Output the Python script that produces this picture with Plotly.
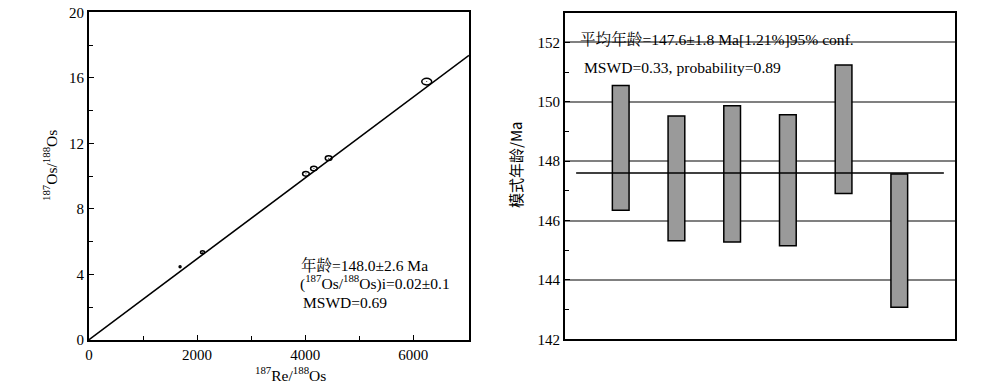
import plotly.graph_objects as go

# Left: isochron data
re_os = [1685, 2100, 4013, 4161, 4433, 6248]
os_os = [4.47, 5.35, 10.14, 10.47, 11.1, 15.77]
sx = [18, 37, 62, 62, 62, 92]
sy = [0.06, 0.09, 0.14, 0.14, 0.14, 0.2]
iso_slope = 0.002469
iso_intercept = 0.02
iso_x = [0, 7030]

# Right: model ages
samples = [1, 2, 3, 4, 5, 6]
age_top = [150.55, 149.52, 149.87, 149.56, 151.24, 147.57]
age_bottom = [146.35, 145.32, 145.28, 145.15, 146.91, 143.08]
mean_age = 147.6
mean_x = [0.2, 6.8]

SERIF = "Liberation Serif, Noto Serif CJK SC, Noto Sans CJK SC, serif"
OFF = 8  # page body margin offset


def px(xp):
    return (xp - OFF) / 1000


def py(yp):
    return (386 + OFF - yp) / 386


fig = go.Figure()

fig.add_trace(go.Scatter(x=iso_x, y=[iso_intercept + iso_slope * v for v in iso_x],
                         mode="lines", line=dict(color="black", width=1.6),
                         xaxis="x", yaxis="y", showlegend=False, hoverinfo="skip"))
fig.add_trace(go.Scatter(x=re_os, y=os_os, mode="markers",
                         marker=dict(size=1, color="black"),
                         xaxis="x", yaxis="y", showlegend=False))

shapes = []
for xv, yv, ex, ey in zip(re_os, os_os, sx, sy):
    shapes.append(dict(type="circle", xref="x", yref="y", x0=xv - ex, x1=xv + ex,
                       y0=yv - ey, y1=yv + ey, line=dict(color="black", width=1.5)))

fig.add_trace(go.Bar(x=samples, y=[t - b for t, b in zip(age_top, age_bottom)], base=age_bottom,
                     width=0.3, marker=dict(color="#9a9a9a", line=dict(color="black", width=1.5)),
                     xaxis="x2", yaxis="y2", showlegend=False))
fig.add_trace(go.Scatter(x=mean_x, y=[mean_age, mean_age], mode="lines",
                         line=dict(color="black", width=1.6),
                         xaxis="x2", yaxis="y2", showlegend=False, hoverinfo="skip"))

axis_common = dict(showline=True, linecolor="black", linewidth=1.8, mirror=True,
                   ticks="inside", ticklen=5, tickcolor="black", tickwidth=1.2,
                   zeroline=False, automargin=False, ticklabeloverflow="allow",
                   tickfont=dict(family=SERIF, size=15, color="black"))

fig.update_layout(
    template="none",
    width=1000, height=386, margin=dict(l=0, r=0, t=0, b=0, autoexpand=False),
    paper_bgcolor="white", plot_bgcolor="white", shapes=shapes,
    xaxis=dict(domain=[px(89), px(469)], range=[0, 7030], tickvals=[0, 2000, 4000, 6000],
               minor=dict(tickvals=[1000, 3000, 5000], ticks="inside", ticklen=4, tickcolor="black"),
               showgrid=False, anchor="y", **axis_common),
    yaxis=dict(domain=[py(340), py(12.3)], range=[0, 20], tickvals=[0, 4, 8, 12, 16, 20],
               minor=dict(tickvals=[2, 6, 10, 14, 18], ticks="inside", ticklen=4, tickcolor="black"),
               showgrid=False, anchor="x", **axis_common),
    xaxis2=dict(domain=[px(565), px(955)], range=[0, 7], showticklabels=False, ticks="",
                showgrid=False, showline=True, linecolor="black", linewidth=1.8, mirror=True,
                zeroline=False, automargin=False, anchor="y2"),
    yaxis2=dict(domain=[py(339.3), py(12.7)], range=[142, 153], tickvals=[142, 144, 146, 148, 150, 152],
                minor=dict(tickvals=[143, 145, 147, 149, 151], ticks="inside", ticklen=4, tickcolor="black"),
                showgrid=True, gridcolor="#808080", gridwidth=1.5, anchor="x2", **axis_common),
    annotations=[
        dict(text="<sup>187</sup>Re/<sup>188</sup>Os", xref="paper", yref="paper", x=px(290), y=py(374),
             xanchor="center", yanchor="middle",
             showarrow=False, font=dict(family=SERIF, size=15.5, color="black")),
        dict(text="<sup>187</sup>Os/<sup>188</sup>Os", xref="paper", yref="paper", x=px(50), y=py(166),
             xanchor="center", yanchor="middle",
             textangle=-90, showarrow=False, font=dict(family=SERIF, size=15.5, color="black")),
        dict(text="年龄=148.0±2.6 Ma", xref="paper", yref="paper", x=px(299), y=py(276),
             xanchor="left", showarrow=False, font=dict(family=SERIF, size=15.5, color="black")),
        dict(text="(<sup>187</sup>Os/<sup>188</sup>Os)i=0.02±0.1", xref="paper", yref="paper", x=px(298), y=py(295),
             xanchor="left", showarrow=False, font=dict(family=SERIF, size=15.5, color="black")),
        dict(text="MSWD=0.69", xref="paper", yref="paper", x=px(301), y=py(313),
             xanchor="left", showarrow=False, font=dict(family=SERIF, size=15.5, color="black")),
        dict(text="模式年龄/Ma", xref="paper", yref="paper", x=px(515), y=py(165),
             xanchor="center", yanchor="middle",
             textangle=-90, showarrow=False, font=dict(family="Noto Sans CJK SC, sans-serif", size=15, color="black")),
        dict(text="平均年龄=147.6±1.8 Ma[1.21%]95% conf.", xref="paper", yref="paper", x=px(578), y=py(28),
             xanchor="left", showarrow=False, font=dict(family=SERIF, size=15.6, color="black")),
        dict(text="MSWD=0.33, probability=0.89", xref="paper", yref="paper", x=px(582), y=py(57),
             xanchor="left", showarrow=False, font=dict(family=SERIF, size=15.6, color="black")),
    ],
)

fig.write_html("out.html")
